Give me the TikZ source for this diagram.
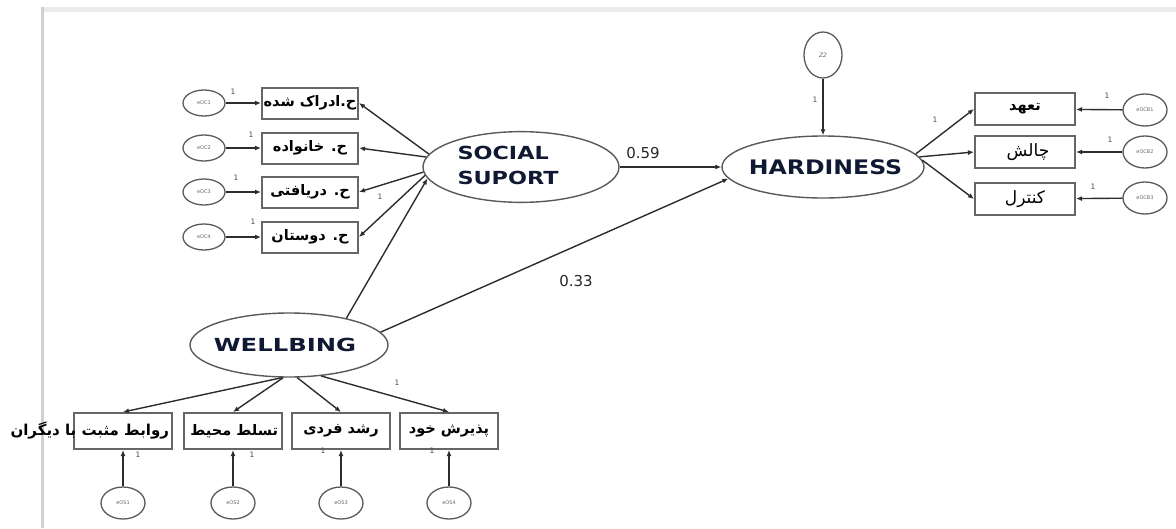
\documentclass[tikz,border=0pt]{standalone}
\usepackage{fontspec}
\setmainfont{DejaVu Sans}
\newfontfamily\fa[Script=Arabic]{DejaVu Sans}
\TeXXeTstate=1
\usetikzlibrary{shapes.geometric,arrows.meta}
\definecolor{navy}{RGB}{15,25,50}
\definecolor{lnc}{RGB}{45,45,45}
\tikzset{
 conn/.style={draw=lnc,line width=1.4pt},
 arr/.style={conn,-{Latex[length=6pt,width=5pt]}},
 obsbox/.style={draw=black!60,line width=2pt,minimum width=96pt,minimum height=31pt,inner sep=0pt,font=\fa\bfseries\fontsize{14.5}{14.5}\selectfont},
 latent/.style={ellipse,draw=black!65,line width=1.4pt,inner sep=0pt},
 errc/.style={ellipse,draw=black!65,line width=1.3pt,inner sep=0pt,minimum width=42pt,minimum height=26pt,font=\fontsize{5}{5}\selectfont,text=black!60},
 one/.style={font=\fontsize{7.5}{7.5}\selectfont,text=black!70,inner sep=0pt},
 head/.style={font=\bfseries\fontsize{18}{25}\selectfont,text=navy},
 coef/.style={font=\fontsize{15}{15}\selectfont,text=black!85,inner sep=0pt}
}
\begin{document}
\begin{tikzpicture}[x=1pt,y=-1pt]
\useasboundingbox (0,0) rectangle (1176,528);
% frame
\draw[black!8,line width=5pt] (42,9) -- (1176,9);
\draw[black!18,line width=3pt] (42,528) -- (42,7);

% latent variables
\node[latent,minimum width=196pt,minimum height=62pt,head] (ss) at (521,167)
 {\makebox[0pt]{\hspace*{-26pt}\scalebox{1.24}[1]{\begin{tabular}{@{}l@{}}SOCIAL\\SUPORT\end{tabular}}}};
\node[latent,minimum width=202pt,minimum height=62pt,head,font=\bfseries\fontsize{20}{20}\selectfont] (hard) at (823,167)
 {\makebox[0pt]{\hspace*{5pt}\scalebox{1.18}[1]{HARDINESS}}};
\node[latent,minimum width=198pt,minimum height=64pt,head] (well) at (289,345)
 {\makebox[0pt]{\hspace*{-8pt}\scalebox{1.35}[1]{WELLBING}}};
\node[errc,minimum width=38pt,minimum height=46pt,font=\itshape\fontsize{6}{6}\selectfont] (z2) at (823,55) {Z2};

% social support indicators
\node[obsbox] (o1) at (310,103) {\hbox to 90pt{\hss\beginR ح.ادراک شده\endR\hss}};
\node[obsbox] (o2) at (310,148) {\beginR ح. خانواده\endR};
\node[obsbox] (o3) at (310,192) {\beginR ح. دریافتی\endR};
\node[obsbox] (o4) at (310,237) {\beginR ح. دوستان\endR};
\node[errc] (e1) at (204,103) {eOC1};
\node[errc] (e2) at (204,148) {eOC2};
\node[errc] (e3) at (204,192) {eOC3};
\node[errc] (e4) at (204,237) {eOC4};

% hardiness indicators
\node[obsbox,minimum width=100pt,minimum height=32pt] (h1) at (1025,109) {\beginR تعهد\endR};
\node[obsbox,minimum width=100pt,minimum height=32pt,font=\fa\fontsize{17}{17}\selectfont] (h2) at (1025,152) {\makebox[0pt]{\hspace*{6pt}\beginR چالش\endR}};
\node[obsbox,minimum width=100pt,minimum height=32pt,font=\fa\fontsize{17}{17}\selectfont] (h3) at (1025,199) {\beginR کنترل\endR};
\node[errc,minimum width=44pt,minimum height=32pt] (b1) at (1145,110) {eOCB1};
\node[errc,minimum width=44pt,minimum height=32pt] (b2) at (1145,152) {eOCB2};
\node[errc,minimum width=44pt,minimum height=32pt] (b3) at (1145,198) {eOCB3};

% wellbeing indicators
\node[obsbox,minimum width=98pt,minimum height=36pt,font=\fa\bfseries\fontsize{15}{15}\selectfont] (w1) at (123,431) {\hbox to 92pt{\hss\beginR روابط مثبت با دیگران\endR}};
\node[obsbox,minimum width=98pt,minimum height=36pt] (w2) at (233,431) {\hbox to 90pt{\hss\beginR تسلط محیط\endR}};
\node[obsbox,minimum width=98pt,minimum height=36pt] (w3) at (341,431) {\beginR رشد فردی\endR};
\node[obsbox,minimum width=98pt,minimum height=36pt] (w4) at (449,431) {\beginR پذیرش خود\endR};
\node[errc,minimum width=44pt,minimum height=32pt] (s1) at (123,503) {eOS1};
\node[errc,minimum width=44pt,minimum height=32pt] (s2) at (233,503) {eOS2};
\node[errc,minimum width=44pt,minimum height=32pt] (s3) at (341,503) {eOS3};
\node[errc,minimum width=44pt,minimum height=32pt] (s4) at (449,503) {eOS4};

% connectors: errors -> indicators
\foreach \i in {1,2,3,4} {\draw[arr] (e\i) -- (o\i);}
\foreach \i in {1,2,3} {\draw[arr] (b\i) -- (h\i);}
\foreach \i in {1,2,3,4} {\draw[arr] (s\i) -- (w\i);}
% latent -> indicators
\draw[arr] (ss.172) -- (o1.east);
\draw[arr] (ss.174) -- (o2.east);
\draw[arr] (ss.183) -- (o3.east);
\draw[arr] (ss.185) -- (o4.east);
\draw[arr] (hard.8) -- (h1.west);
\draw[arr] (hard.6) -- (h2.west);
\draw[arr] (hard.4) -- (h3.west);
\draw[arr] (well.258) -- (w1.north);
\draw[arr] (well.260) -- (w2.north);
\draw[arr] (well.284) -- (w3.north);
\draw[arr] (well.316) -- (w4.north);
% structural paths
\draw[arr] (ss.east) -- (hard.west);
\draw[arr] (well.25) -- (ss.187);
\draw[arr] (well.8) -- (hard.187);
\draw[arr] (z2) -- (hard);

% coefficients
\node[coef] (c59) at (643,153) {0.59};
\node[coef] (c33) at (576,281) {0.33};

% unit loadings
\node[one] (l1) at (233,92) {1};
\node[one] (l2) at (251,135) {1};
\node[one] (l3) at (236,178) {1};
\node[one] (l4) at (253,222) {1};
\node[one] (l5) at (380,197) {1};
\node[one] (l6) at (1107,96) {1};
\node[one] (l7) at (1110,140) {1};
\node[one] (l8) at (1093,187) {1};
\node[one] (l9) at (815,100) {1};
\node[one] (l10) at (935,120) {1};
\node[one] (l11) at (397,383) {1};
\node[one] (l12) at (138,455) {1};
\node[one] (l13) at (252,455) {1};
\node[one] (l14) at (323,451) {1};
\node[one] (l15) at (432,451) {1};
\end{tikzpicture}
\end{document}
